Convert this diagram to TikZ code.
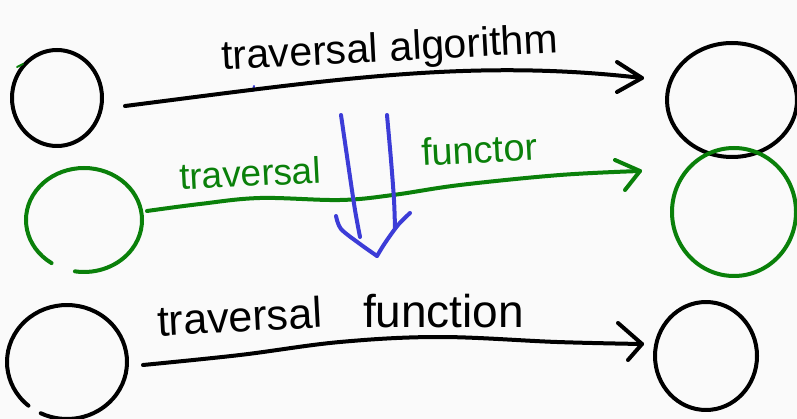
\documentclass[tikz,border=0pt]{standalone}
\usepackage{fontspec}
\setmainfont{Liberation Sans}
\usetikzlibrary{calc}
\definecolor{bgc}{RGB}{250,250,250}
\definecolor{pgreen}{RGB}{10,128,10}
\definecolor{pblue}{RGB}{60,60,215}
\begin{document}
\begin{tikzpicture}[x=1pt,y=-1pt,
  pen/.style={line width=4pt,line cap=round,line join=round},
  blk/.style={pen,black},
  grn/.style={pen,pgreen},
  blu/.style={pen,pblue},
  lbl/.style={inner sep=0pt,outer sep=0pt,anchor=base west}]
\fill[bgc] (0,0) rectangle (797,419);
\useasboundingbox (0,0) rectangle (797,419);

% left objects
\draw[blk] (57,98) ellipse [x radius=45, y radius=48];
\draw[grn] (84,220) ++(124:58 and 52) arc [start angle=124, end angle=459, x radius=58, y radius=52];
\draw[blk] (67,362) ++(130:60 and 57) arc [start angle=130, end angle=476, x radius=60, y radius=57];
% right objects
\draw[blk] (732,100) ellipse [x radius=65, y radius=57];
\draw[grn] (734,212) ellipse [x radius=62, y radius=64];
\draw[blk] (706,356) ellipse [x radius=51, y radius=54];

% stray marks
\draw[pgreen,line width=2pt,line cap=round] (17,67) -- (23,64);
\draw[pblue,line width=2pt,line cap=round] (254,86) -- (253,91);

% connector end points
\coordinate (a1s) at (125,106);
\coordinate (a1e) at (642,78);
\coordinate (a2s) at (147,211);
\coordinate (a2e) at (640,171);
\coordinate (a3s) at (143,365);
\coordinate (a3e) at (642,344);

% top arrow
\draw[blk] (a1s) .. controls (330,80) and (470,58) .. (a1e);
\draw[blk] ($(a1e)+(-25,-16)$) -- (a1e) -- ($(a1e)+(-25,14)$);
% green arrow
\draw[grn] plot[smooth,tension=0.6] coordinates {(a2s) (200,204) (260,198) (340,200) (393,195) (460,185) (560,175) (a2e)};
\draw[grn] ($(a2e)+(-25,-11)$) -- (a2e) -- ($(a2e)+(-15,19)$);
% bottom arrow
\draw[blk] plot[smooth,tension=0.6] coordinates {(a3s) (240,355) (340,342) (440,337) (557,342) (a3e)};
\draw[blk] ($(a3e)+(-24,-21)$) -- (a3e) -- ($(a3e)+(-14,16)$);

% blue double arrow
\coordinate (b1) at (341,115);
\coordinate (b2) at (387,115);
\coordinate (bt) at (377,256);
\draw[blu] plot[smooth] coordinates {(b1) (349,170) (355,210) (360,237)};
\draw[blu] plot[smooth] coordinates {(b2) (391,160) (394,200) (395,228)};
\draw[blu] plot[smooth] coordinates {(336,216) (341,229) (360,244) (bt)};
\draw[blu] plot[smooth] coordinates {(410,213) (398,225) (385,243) (bt)};

% labels
\node[lbl,rotate=3,font=\fontsize{41}{48}\selectfont] (t1) at (222,70) {traversal algorithm};
\node[lbl,rotate=3,font=\fontsize{37}{44}\selectfont,text=pgreen] (t2a) at (180,190) {traversal};
\node[lbl,rotate=3,font=\fontsize{38}{44}\selectfont,text=pgreen] (t2b) at (422,166) {functor};
\node[lbl,rotate=3,font=\fontsize{43}{50}\selectfont] (t3a) at (158,336) {traversal};
\node[lbl,font=\fontsize{46}{54}\selectfont] (t3b) at (363,327) {function};
\end{tikzpicture}
\end{document}
